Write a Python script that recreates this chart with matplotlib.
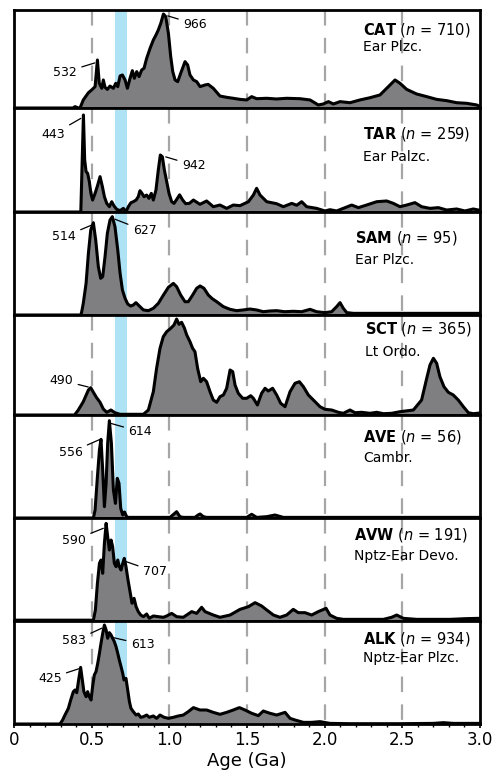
import numpy as np
import matplotlib.pyplot as plt

# sample info
names = ['CAT', 'TAR', 'SAM', 'SCT', 'AVE', 'AVW', 'ALK']
counts = [710, 259, 95, 365, 56, 191, 934]
periods = ['Ear Plzc.', 'Ear Palzc.', 'Ear Plzc.', 'Lt Ordo.', 'Cambr.',
           'Nptz-Ear Devo.', 'Nptz-Ear Plzc.']

# relative probability density, age in Ga
cat_age = [0.0, 0.38, 0.393, 0.414, 0.425, 0.446, 0.479, 0.500, 0.522, 0.537, 0.549, 0.565,
           0.575, 0.586, 0.601, 0.618, 0.640, 0.655, 0.668, 0.683, 0.698, 0.715, 0.730,
           0.747, 0.762, 0.775, 0.790, 0.805, 0.822, 0.837, 0.854, 0.876, 0.897, 0.914,
           0.929, 0.945, 0.962, 0.977, 0.994, 1.009, 1.022, 1.037, 1.054, 1.073, 1.101,
           1.118, 1.133, 1.155, 1.176, 1.198, 1.23, 1.25, 1.283, 1.326, 1.369, 1.412,
           1.455, 1.498, 1.53, 1.562, 1.627, 1.69, 1.755, 1.841, 1.906, 1.959, 1.991,
           2.024, 2.056, 2.099, 2.163, 2.227, 2.292, 2.356, 2.41, 2.453, 2.485, 2.528,
           2.592, 2.657, 2.721, 2.785, 2.85, 2.914, 2.979, 3.0]
cat_dens = [0, 0, 1.4, 0, 0, 8.2, 15.6, 18.4, 21.8, 49, 25.2, 20.1,
            28.6, 21.1, 19, 22.4, 20.1, 25.2, 21.8, 32.7, 33.7, 28.6, 20.1,
            30.3, 38.1, 30.3, 37.1, 32, 38.8, 40.5, 50.7, 60.9, 69.4, 74.5,
            79.6, 86.4, 95.9, 93.2, 76.2, 52.4, 37.1, 28.6, 26.9, 35.4, 47.3,
            43.9, 33.7, 28.6, 26.9, 21.8, 23.5, 24.1, 20.1, 12.2, 10.9, 9.9,
            8.8, 8.2, 11.6, 9.5, 9.9, 9.2, 9.9, 9.5, 8.2, 3.1, 4.1,
            6.5, 4.1, 6.5, 5.4, 8.2, 10.5, 13.3, 21.8, 28.6, 25.2, 19,
            14.3, 11.6, 8.8, 7.5, 5.4, 4.8, 3.1, 1.4]

tar_age = [0.0, 0.43, 0.438, 0.447, 0.455, 0.464, 0.474, 0.485, 0.495, 0.506, 0.522, 0.539,
           0.554, 0.569, 0.582, 0.597, 0.614, 0.629, 0.644, 0.661, 0.683, 0.704, 0.721,
           0.736, 0.753, 0.768, 0.786, 0.8, 0.811, 0.824, 0.837, 0.854, 0.869, 0.884,
           0.897, 0.914, 0.929, 0.942, 0.955, 0.968, 0.983, 0.998, 1.015, 1.03, 1.047,
           1.066, 1.086, 1.105, 1.129, 1.155, 1.197, 1.24, 1.283, 1.326, 1.369, 1.412,
           1.455, 1.509, 1.541, 1.562, 1.584, 1.627, 1.69, 1.734, 1.788, 1.82, 1.852,
           1.884, 1.948, 2.002, 2.034, 2.077, 2.12, 2.174, 2.217, 2.27, 2.335, 2.399,
           2.442, 2.485, 2.528, 2.581, 2.624, 2.678, 2.732, 2.785, 2.85, 2.903, 2.957, 3.0]
tar_dens = [0, 0, 43.6, 93.3, 50, 38.8, 37.2, 29.2, 17.9, 11.5, 17.9, 26,
            34, 24.4, 14.7, 8.3, 5.1, 9.9, 5.8, 2.6, 1.3, 3.5, 0.3,
            5.1, 9, 9.9, 11.5, 14.7, 20.5, 17.9, 14.7, 16.3, 13.1, 17.9,
            11.5, 21.2, 40.4, 54.8, 53.2, 40.4, 29.2, 17.9, 9.9, 8.3, 12,
            16.5, 11.5, 8, 8.3, 11.5, 7.4, 10.6, 5.1, 6.7, 3.5, 6.7,
            6.1, 9.9, 16.3, 22.8, 16.3, 9.9, 8, 5.1, 8.3, 6.5, 9.9,
            5.1, 3.5, 1, 2.2, 1, 3.5, 6.7, 4.2, 6.7, 9.9, 10.6,
            8.3, 5.1, 6.7, 9, 5.1, 3.5, 4.2, 1.9, 2.9, 1, 2.9, 1.6]

sam_age = [0.0, 0.43, 0.436, 0.446, 0.464, 0.479, 0.494, 0.511, 0.526, 0.543, 0.558, 0.571,
           0.586, 0.601, 0.618, 0.633, 0.65, 0.668, 0.683, 0.698, 0.715, 0.732, 0.751,
           0.768, 0.785, 0.811, 0.833, 0.865, 0.897, 0.929, 0.962, 0.994, 1.026, 1.047,
           1.073, 1.101, 1.122, 1.15, 1.176, 1.198, 1.223, 1.251, 1.275, 1.305, 1.348,
           1.391, 1.433, 1.476, 1.519, 1.562, 1.605, 1.648, 1.691, 1.742, 1.798, 1.852,
           1.906, 1.948, 2.002, 2.045, 2.077, 2.099, 2.12, 2.142, 2.185, 3.0]
sam_dens = [0, 0, 3.2, 11.3, 30.7, 59.9, 82.5, 89.6, 72.8, 46.9, 35.6, 37.2,
            56.6, 79.3, 92.2, 95.5, 85.8, 63.1, 40.5, 24.3, 16.2, 10.7, 8.7,
            9.7, 12, 8.1, 4.9, 4.2, 6.5, 11.3, 19.4, 26.9, 30.7, 27.5,
            19.4, 12.9, 12.9, 19.4, 25.9, 28.2, 25.9, 19.4, 16, 12.9, 8.1,
            5.5, 4.2, 4.9, 5.8, 4.9, 3.2, 3.9, 4.2, 3.2, 3.6, 3.2,
            5.5, 3.2, 2.3, 3.2, 8.1, 12, 6.5, 2.3, 1.6, 1.6]

sct_age = [0.0, 0.39, 0.414, 0.446, 0.479, 0.494, 0.511, 0.532, 0.554, 0.575, 0.597, 0.624,
           0.65, 0.682, 0.833, 0.865, 0.897, 0.918, 0.94, 0.961, 0.983, 1.009, 1.03,
           1.047, 1.062, 1.079, 1.096, 1.112, 1.133, 1.15, 1.165, 1.182, 1.202, 1.219,
           1.24, 1.262, 1.283, 1.305, 1.326, 1.348, 1.369, 1.391, 1.408, 1.423, 1.444,
           1.472, 1.498, 1.524, 1.541, 1.567, 1.594, 1.616, 1.637, 1.665, 1.691, 1.717,
           1.745, 1.777, 1.809, 1.837, 1.863, 1.895, 1.938, 1.97, 2.002, 2.045, 2.088,
           2.12, 2.163, 2.195, 2.238, 2.292, 2.335, 2.378, 2.431, 2.485, 2.571, 2.624,
           2.657, 2.678, 2.7, 2.721, 2.742, 2.768, 2.796, 2.828, 2.86, 2.893, 2.925,
           2.957, 3.0]
sct_dens = [0, 0, 5, 13.3, 25, 27.3, 22.7, 17.3, 12.7, 6, 2.7, 5,
            2.3, 0.7, 0.7, 5, 23.3, 46.7, 66.7, 78.3, 83.3, 86.7, 90,
            96, 90.7, 92.7, 87.3, 80, 73.3, 66.7, 63.3, 46.7, 33.3, 36.7,
            33.3, 23.3, 15, 12.7, 18.3, 20, 26.7, 45, 43.3, 30, 21.7,
            16.7, 16.7, 19.3, 16.7, 10, 21.7, 26.7, 24, 26.7, 20, 11.7,
            8.3, 23.3, 31.7, 33.3, 28.3, 20, 13.3, 8.3, 5.7, 5, 2.7,
            1.7, 5, 2.3, 2.7, 1.7, 2.7, 1.3, 1.7, 3.3, 5, 15,
            36.7, 50, 56.7, 51.7, 38.3, 28.3, 22.7, 20, 15, 8.3, 2.3,
            1.3, 2]

ave_age = [0.0, 0.511, 0.522, 0.537, 0.55, 0.56, 0.571, 0.582, 0.593, 0.603, 0.614, 0.627,
           0.64, 0.653, 0.665, 0.676, 0.687, 0.7, 0.712, 0.725, 0.736, 1.004, 1.03,
           1.047, 1.068, 1.09, 1.165, 1.186, 1.198, 1.219, 1.24, 1.498, 1.53, 1.562,
           1.627, 1.68, 1.734, 3.0]
ave_dens = [0, 0, 7.8, 40.1, 66, 76.4, 46.6, 11, 33.7, 72.5, 94.5, 72.5,
            27.2, 14.2, 38.5, 33.7, 9.4, 2.9, 5.8, 1.3, 0.6, 0.6, 3.9,
            6.1, 1.3, 0.6, 0.6, 3, 3.9, 1.3, 0.6, 0.6, 3.6, 0.6,
            1.3, 2.9, 0.6, 0.6]

avw_age = [0.0, 0.511, 0.524, 0.537, 0.55, 0.56, 0.571, 0.582, 0.593, 0.603, 0.614, 0.625,
           0.635, 0.646, 0.657, 0.668, 0.678, 0.689, 0.7, 0.71, 0.721, 0.734, 0.747,
           0.76, 0.773, 0.786, 0.8, 0.816, 0.833, 0.854, 0.871, 0.897, 0.929, 0.962,
           0.983, 1.015, 1.047, 1.09, 1.144, 1.176, 1.208, 1.23, 1.283, 1.326, 1.391,
           1.455, 1.509, 1.552, 1.594, 1.627, 1.67, 1.712, 1.755, 1.798, 1.83, 1.873,
           1.916, 1.959, 2.009, 2.034, 2.077, 2.12, 2.378, 2.431, 2.464, 2.506, 2.592,
           2.807, 2.914, 3.0]
avw_dens = [0.8, 0.8, 10.7, 36.6, 56, 59.2, 46.3, 75.4, 94.8, 81.9, 68.9, 78.6,
            72.2, 56, 52.8, 59.2, 52.8, 49.5, 56, 60.8, 52.8, 39.8, 28.5,
            17.2, 22, 13.9, 9.1, 5.8, 4.2, 6.8, 2.6, 4.9, 4.2, 3.6,
            4.9, 7.4, 4.2, 3.6, 9.1, 7.4, 13.3, 9.1, 5.8, 3.6, 5.8,
            11.3, 13.9, 17.8, 14.6, 10.7, 5.8, 3.6, 5.8, 11.3, 8.1, 8.1,
            5.8, 9.1, 12.3, 5.8, 2.6, 1.6, 1.6, 3.6, 5.8, 2.6, 1.6,
            1.6, 2.3, 2.6]

alk_age = [0.0, 0.296, 0.313, 0.328, 0.35, 0.365, 0.382, 0.393, 0.404, 0.416, 0.429, 0.44,
           0.45, 0.464, 0.474, 0.485, 0.496, 0.506, 0.517, 0.528, 0.539, 0.55, 0.56,
           0.571, 0.582, 0.593, 0.603, 0.614, 0.625, 0.635, 0.646, 0.657, 0.668, 0.678,
           0.689, 0.7, 0.708, 0.721, 0.732, 0.743, 0.753, 0.768, 0.786, 0.8, 0.816,
           0.833, 0.854, 0.871, 0.897, 0.918, 0.94, 0.966, 0.994, 1.026, 1.058, 1.09,
           1.122, 1.155, 1.197, 1.24, 1.283, 1.326, 1.369, 1.412, 1.451, 1.487, 1.53,
           1.573, 1.605, 1.648, 1.691, 1.745, 1.777, 1.809, 1.863, 1.916, 1.97, 2.034,
           2.163, 2.485, 2.7, 2.764, 2.828, 3.0]
alk_dens = [0, 0, 3.9, 8.7, 15.2, 23.3, 31.4, 33, 30.4, 42.7, 55, 42.7,
            31.4, 26.5, 31.4, 26.5, 23.3, 36.2, 47.6, 50.8, 58.9, 68.6, 78.3,
            88, 96.1, 91.3, 83.2, 88.7, 86.4, 83.2, 79.9, 75.1, 68.6, 62.1,
            55.7, 49.2, 42.7, 44.3, 33, 21.7, 15.2, 12, 8.7, 9.7, 6.5,
            7.1, 8.7, 6.5, 7.8, 5.5, 8.7, 6.5, 5.5, 6.5, 7.8, 8.7,
            12, 15.9, 13.6, 13.6, 11.3, 9.4, 11.3, 13.6, 15.9, 13.6, 10.4,
            8.1, 12.6, 10.4, 8.7, 11.3, 5.5, 3.9, 1.6, 1.6, 2.3, 0.6,
            0.3, 0.3, 0.6, 1.3, 0.6, 0.6]

ages = [cat_age, tar_age, sam_age, sct_age, ave_age, avw_age, alk_age]
dens = [cat_dens, tar_dens, sam_dens, sct_dens, ave_dens, avw_dens, alk_dens]

# labelled peaks (Ma)
peak_labels = [['532', '966'], ['443', '942'], ['514', '627'], ['490'],
               ['556', '614'], ['590', '707'], ['583', '613', '425']]

# layout of the peak labels: (peak xy, text xy, alignment)
peak_pos = [
    [((0.52, 46), (0.406, 36.7), 'right'), ((0.99, 94), (1.088, 85.7), 'left')],
    [((0.43, 90), (0.328, 74.7), 'right'), ((0.977, 53), (1.08, 45), 'left')],
    [((0.495, 87), (0.399, 76), 'right'), ((0.65, 93), (0.764, 81.8), 'left')],
    [((0.478, 28), (0.382, 34.7), 'right')],
    [((0.549, 76), (0.442, 63.8), 'right'), ((0.62, 92), (0.736, 83.8), 'left')],
    [((0.575, 90), (0.464, 78.6), 'right'), ((0.715, 58), (0.829, 47.9), 'left')],
    [((0.565, 93), (0.464, 80.7), 'right'), ((0.635, 84), (0.751, 77.4), 'left'),
     ((0.425, 54), (0.307, 44.4), 'right')],
]
name_x = [2.247, 2.245, 2.196, 2.26, 2.247, 2.19, 2.247]
name_y = [0.796, 0.747, 0.748, 0.86, 0.79, 0.835, 0.825]
period_y = [0.622, 0.532, 0.534, 0.633, 0.58, 0.63, 0.638]

W, H = 496, 779
edges = [10, 108, 212, 315, 415, 518, 621, 724]
fig = plt.figure(figsize=(W / 100, H / 100), dpi=100)

for i in range(7):
    top, bot = edges[i], edges[i + 1]
    ax = fig.add_axes([14 / W, 1 - bot / H, 466 / W, (bot - top) / H])
    ax.axvspan(0.65, 0.725, color='#aee3f6', lw=0, zorder=0)
    for g in [0.5, 1.0, 1.5, 2.0, 2.5]:
        ax.plot([g, g], [100, 0], color='#a6a6a6', lw=1.6, dashes=(7, 5.5), zorder=1)
    ax.fill_between(ages[i], dens[i], 0, color='#7f7f82', lw=0, zorder=2)
    ax.plot(ages[i], dens[i], color='black', lw=2.2, zorder=3, solid_joinstyle='round')
    ax.set_xlim(0, 3.0)
    ax.set_ylim(0, 100)
    for s in ax.spines.values():
        s.set_linewidth(2.0)
        s.set_zorder(6)
    ax.set_yticks([])

    for lab, (xy, xyt, ha) in zip(peak_labels[i], peak_pos[i]):
        ax.annotate(lab, xy=xy, xytext=xyt, ha=ha, va='center', fontsize=9, zorder=5,
                    arrowprops=dict(arrowstyle='-', color='black', lw=0.9,
                                    shrinkA=1.5, shrinkB=0))

    tr = ax.get_xaxis_transform()
    ax.text(name_x[i], name_y[i], r'$\mathbf{%s}$ ($\mathit{n}$ = %d)' % (names[i], counts[i]),
            transform=tr, fontsize=10.5, ha='left', va='center', zorder=5)
    ax.text(name_x[i], period_y[i], periods[i], transform=tr, fontsize=10,
            ha='left', va='center', zorder=5)

    if i < 6:
        ax.set_xticks([])
    else:
        ax.set_xticks(np.arange(0, 3.01, 0.5))
        ax.set_xticklabels(['0', '0.5', '1.0', '1.5', '2.0', '2.5', '3.0'], fontsize=12)
        ax.set_xticks(np.arange(0, 3.01, 0.1), minor=True)
        ax.tick_params(axis='x', which='major', direction='out', length=3, width=1.2, pad=2)
        ax.tick_params(axis='x', which='minor', direction='out', length=2, width=1)
        ax.set_xlabel('Age (Ga)', fontsize=13, labelpad=2)

fig.savefig('out.png', dpi=100)
